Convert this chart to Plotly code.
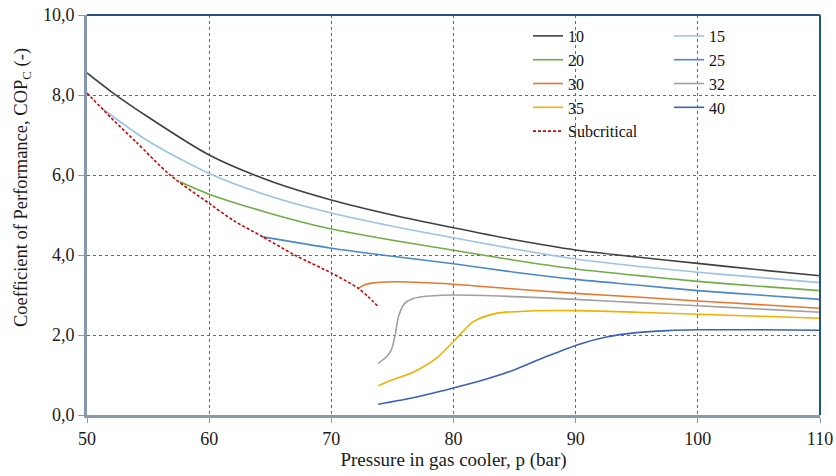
import plotly.graph_objects as go

# ---- data ----
x10 = [50, 52, 55, 60, 65, 70, 75, 80, 85, 90, 95, 100, 105, 110]
y10 = [8.55, 8.08, 7.45, 6.5, 5.85, 5.375, 5.0, 4.68, 4.38, 4.125, 3.95, 3.79, 3.63, 3.48]

x15 = [51.3, 55, 60, 65, 70, 75, 80, 85, 90, 95, 100, 105, 110]
y15 = [7.65, 6.85, 6.04, 5.47, 5.05, 4.72, 4.43, 4.15, 3.9, 3.72, 3.57, 3.44, 3.31]

x20 = [57.6, 60, 65, 70, 75, 80, 85, 90, 95, 100, 105, 110]
y20 = [5.83, 5.52, 5.04, 4.65, 4.37, 4.12, 3.87, 3.65, 3.49, 3.34, 3.22, 3.11]

x25 = [64.3, 70, 75, 80, 85, 90, 95, 100, 105, 110]
y25 = [4.46, 4.17, 3.97, 3.78, 3.57, 3.39, 3.25, 3.11, 3.0, 2.89]

x30 = [72.2, 72.7, 73.2, 74, 75.3, 80, 85, 90, 95, 100, 105, 110]
y30 = [3.17, 3.25, 3.29, 3.32, 3.33, 3.27, 3.15, 3.04, 2.95, 2.85, 2.76, 2.67]

x32 = [73.84, 74.5, 74.9, 75.2, 75.5, 76.0, 76.6, 77.25, 80, 85, 90, 95, 100, 105, 110]
y32 = [1.29, 1.45, 1.62, 1.96, 2.46, 2.79, 2.9, 2.95, 3.0, 2.96, 2.89, 2.81, 2.73, 2.65, 2.57]

x35 = [73.84, 75, 76.7, 78.6, 80.1, 81.6, 83.5, 86.25, 90, 95, 100, 105, 110]
y35 = [0.73, 0.88, 1.07, 1.42, 1.87, 2.33, 2.54, 2.6, 2.61, 2.57, 2.52, 2.47, 2.42]

x40 = [73.84, 77, 80.06, 82.5, 84.9, 87.6, 90.3, 92.5, 95, 97.5, 100, 105, 110]
y40 = [0.27, 0.45, 0.68, 0.88, 1.12, 1.46, 1.77, 1.95, 2.06, 2.11, 2.13, 2.13, 2.12]

x_sub = [50, 52, 54, 56.8, 60, 62, 64.3, 67, 70.07, 72.2, 73.0, 73.84]
y_sub = [8.05, 7.42, 6.83, 6.0, 5.29, 4.86, 4.47, 4.0, 3.54, 3.17, 2.96, 2.71]

x_ticks = [50, 60, 70, 80, 90, 100, 110]
y_ticks = [0, 2, 4, 6, 8, 10]

FONT = "Liberation Serif"
TXT = "#1a1a1a"

series = [
    ("10", x10, y10, "#404040", "legend"),
    ("15", x15, y15, "#9DC3E6", "legend2"),
    ("20", x20, y20, "#70AD47", "legend"),
    ("25", x25, y25, "#4A89C8", "legend2"),
    ("30", x30, y30, "#E8772E", "legend"),
    ("32", x32, y32, "#A0A0A0", "legend2"),
    ("35", x35, y35, "#F0B000", "legend"),
    ("40", x40, y40, "#3A62B5", "legend2"),
]

fig = go.Figure()
for name, xs, ys, col, lg in series:
    fig.add_trace(go.Scatter(
        x=xs, y=ys, name=name, mode="lines",
        line=dict(color=col, width=1.6, shape="spline", smoothing=0.8),
        legend=lg,
    ))

fig.add_trace(go.Scatter(
    x=x_sub, y=y_sub, name="Subcritical", mode="lines",
    line=dict(color="#D00000", width=1.6, dash="3px,2px", shape="spline", smoothing=0.8),
    legend="legend",
))

L, R, T, B = 87, 16, 15, 61
W, H = 836, 476
pw, ph = W - L - R, H - T - B

def px_x(p):
    return (p - L) / pw

def px_y(p):
    return (H - B - p) / ph

grid = dict(showgrid=True, gridcolor="#4E6E93", gridwidth=1, griddash="dot")
legfont = dict(family=FONT, size=16, color="#111")

fig.update_layout(
    template="none",
    width=W, height=H,
    margin=dict(l=L, r=R, t=T, b=B, autoexpand=False),
    paper_bgcolor="white", plot_bgcolor="white",
    separators=", ",
    font=dict(family=FONT, size=18, color=TXT),
    showlegend=True,
    legend=dict(x=px_x(528), y=px_y(19), xanchor="left", yanchor="top",
                bgcolor="rgba(255,255,255,0)", font=legfont, borderwidth=0,
                tracegroupgap=0, itemwidth=30),
    legend2=dict(x=px_x(669), y=px_y(19), xanchor="left", yanchor="top",
                 bgcolor="rgba(255,255,255,0)", font=legfont, borderwidth=0,
                 tracegroupgap=0, itemwidth=30),
    xaxis=dict(range=[50, 110], tickvals=x_ticks, ticktext=[str(v) for v in x_ticks],
               automargin=False,
               showline=True, linecolor="#8A98AA", linewidth=3,
               ticks="outside", ticklen=5, tickcolor="#8A98AA",
               tickfont=dict(family=FONT, size=18, color=TXT),
               title=dict(text="Pressure in gas cooler, p (bar)", standoff=6,
                          font=dict(family=FONT, size=19, color=TXT)),
               zeroline=False, **grid),
    yaxis=dict(range=[0, 10], tickvals=y_ticks, tickformat=".1f",
               automargin=False,
               showline=True, linecolor="#8496B0", linewidth=3,
               ticks="outside", ticklen=6, tickcolor="#8A98AA",
               tickfont=dict(family=FONT, size=18, color=TXT),
               zeroline=False, **grid),
)

fig.add_annotation(
    text="Coefficient of Performance, COP<sub>C</sub> (-)",
    xref="paper", yref="paper", x=px_x(22), y=px_y(188),
    textangle=-90, showarrow=False, xanchor="center", yanchor="middle",
    font=dict(family=FONT, size=18.5, color=TXT),
)

# white legend backdrop (hides gridlines behind the legend, as in the reference)
fig.add_shape(type="rect", xref="paper", yref="paper", layer="between",
              x0=px_x(522), x1=px_x(807), y0=px_y(147), y1=px_y(25),
              fillcolor="white", line=dict(width=0))

# top and right frame lines
fig.add_shape(type="line", xref="paper", yref="paper", x0=0, x1=1, y0=1, y1=1,
              line=dict(color="#24527F", width=2))
fig.add_shape(type="line", xref="paper", yref="paper", x0=1, x1=1, y0=0, y1=1,
              line=dict(color="#24527F", width=2))

fig.write_html("out.html")
